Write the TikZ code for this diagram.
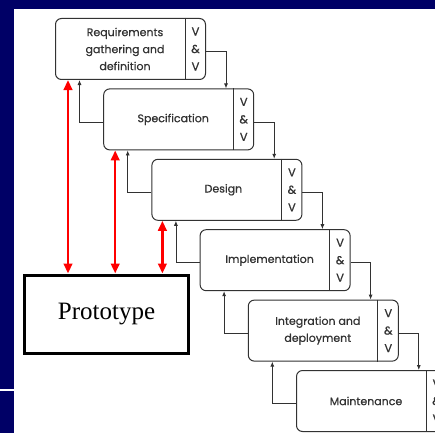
\documentclass[tikz,border=0pt]{standalone}
\usepackage{fontspec}
\setmainfont{Liberation Serif}
\newfontfamily\boxfont[FakeBold=0.6]{Poppins}
\usetikzlibrary{arrows.meta}
\definecolor{navy}{RGB}{0,0,102}
\definecolor{boxgray}{RGB}{50,50,50}
\begin{document}
\begin{tikzpicture}[x=1pt,y=-1pt,
  stagebox/.style={draw=boxgray, line width=1pt, rounded corners=6pt,
    minimum width=150pt, minimum height=61pt, anchor=north west, inner sep=0pt},
  stagetext/.style={font=\boxfont\fontsize{11}{17}\selectfont, text=boxgray, align=center, inner sep=0pt},
  vvtext/.style={font=\boxfont\fontsize{11.5}{17.5}\selectfont, text=boxgray, align=center, inner sep=0pt},
  sepline/.style={draw=boxgray, line width=1pt},
  flow/.style={draw=boxgray, line width=0.8pt, -{Latex[length=5pt,width=4pt]}},
  protoarrow/.style={draw=red, line width=2.5pt, {Triangle[length=10pt,width=8.5pt]}-{Triangle[length=10pt,width=8.5pt]}}
]
\useasboundingbox (0,0) rectangle (435,433);
\clip (0,0) rectangle (435,433);
\fill[navy] (0,0) rectangle (435,433);
\fill[white] (14,9) rectangle (435,433);
\fill[white] (0,389) rectangle (14,391);

% stage boxes
\node[stagebox] (b1) at (55,18) {};
\node[stagebox] (b2) at (103.2,88.4) {};
\node[stagebox] (b3) at (151.4,158.8) {};
\node[stagebox] (b4) at (199.6,229.2) {};
\node[stagebox] (b5) at (247.8,299.6) {};
\node[stagebox] (b6) at (296,370) {};

\foreach \b in {b1,b2,b3,b4,b5,b6}{
  \draw[sepline] ([xshift=-21pt]\b.north east) -- ([xshift=-21pt]\b.south east);
  \node[vvtext] (vv\b) at ([xshift=-10.5pt]\b.east) {V\\\&\\V};
}

\node[stagetext] (t1) at ([xshift=70pt]b1.west) {Requirements\\gathering and\\definition};
\node[stagetext] (t2) at ([xshift=70pt]b2.west) {Specification};
\node[stagetext] (t3) at ([xshift=72pt]b3.west) {Design};
\node[stagetext] (t4) at ([xshift=70pt]b4.west) {Implementation};
\node[stagetext] (t5) at ([xshift=70pt]b5.west) {Integration and\\deployment};
\node[stagetext] (t6) at ([xshift=70pt]b6.west) {Maintenance};

% forward arrows
\draw[flow] ([yshift=-2.5pt]b1.east) -| ([xshift=20pt]b1.east |- b2.north);
\draw[flow] ([yshift=-2.5pt]b2.east) -| ([xshift=20pt]b2.east |- b3.north);
\draw[flow] ([yshift=-2.5pt]b3.east) -| ([xshift=20pt]b3.east |- b4.north);
\draw[flow] ([yshift=-2.5pt]b4.east) -| ([xshift=20pt]b4.east |- b5.north);
\draw[flow] ([yshift=-2.5pt]b5.east) -| ([xshift=20pt]b5.east |- b6.north);

% backward arrows
\draw[flow] ([yshift=-2.5pt]b2.west) -| ([xshift=24.5pt]b1.south west);
\draw[flow] ([yshift=-2.5pt]b3.west) -| ([xshift=24.5pt]b2.south west);
\draw[flow] ([yshift=-2.5pt]b4.west) -| ([xshift=24.5pt]b3.south west);
\draw[flow] ([yshift=-2.5pt]b5.west) -| ([xshift=24.5pt]b4.south west);
\draw[flow] ([yshift=-2.5pt]b6.west) -| ([xshift=24.5pt]b5.south west);

% prototype
\node[draw=black, line width=3pt, minimum width=164pt, minimum height=78pt,
      anchor=north west, inner sep=0pt, font=\fontsize{25}{30}\selectfont]
      (proto) at (23,273.5) {Prototype};

\draw[protoarrow] ([xshift=13pt]b1.south west) -- ([xshift=13pt]b1.south west |- proto.north);
\draw[protoarrow] ([xshift=12pt]b2.south west) -- ([xshift=12pt]b2.south west |- proto.north);
\draw[protoarrow] ([xshift=11pt]b3.south west) -- ([xshift=11pt]b3.south west |- proto.north);
\end{tikzpicture}
\end{document}
